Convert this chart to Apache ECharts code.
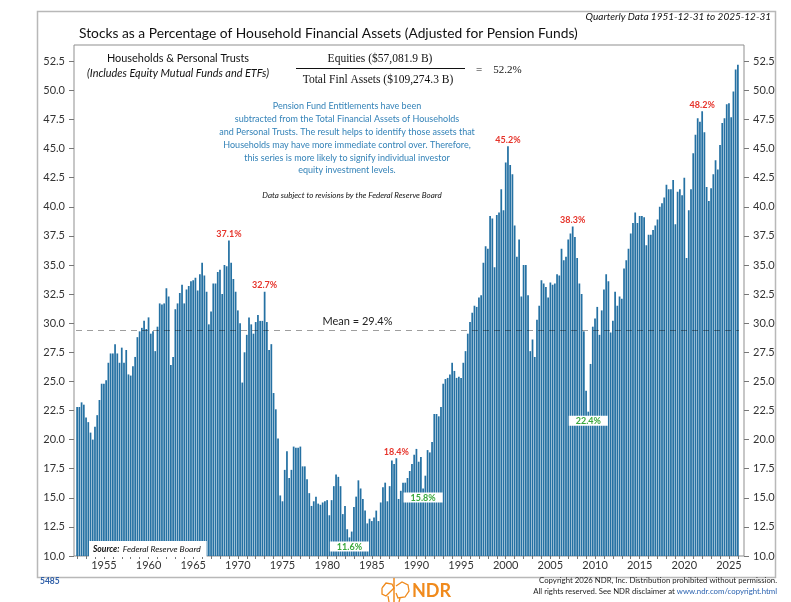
<!DOCTYPE html>
<html>
<head>
<meta charset="utf-8">
<title>Stocks as a Percentage of Household Financial Assets</title>
<script src="https://cdn.jsdelivr.net/npm/echarts@6/dist/echarts.min.js"></script>
<style>
  html, body { margin: 0; padding: 0; background: #fff; }
  #chart { width: 791px; height: 602px; }
</style>
</head>
<body>
<div id="chart"></div>
<script>
// Stocks as % of household financial assets, quarterly, first bar = 1951-12-31
const q1950s = [
  22.8,
  22.8, 23.2, 23.0, 21.9,
  21.5, 20.6, 20.0, 21.1,
  22.1, 23.4, 24.8, 24.8,
  25.1, 26.6, 27.4, 27.4,
  28.2, 27.4, 26.6, 27.9,
  26.6, 27.7, 25.6, 25.5,
  26.3, 27.1, 28.8, 29.3,
  29.6, 30.2, 29.5, 30.5
];
const q1960s = [
  29.1, 29.3, 27.6, 29.7,
  31.7, 31.6, 31.7, 33.0,
  32.3, 26.4, 27.1, 31.2,
  31.7, 32.6, 33.3, 31.7,
  32.9, 33.2, 33.6, 33.7,
  33.9, 32.8, 34.2, 35.2,
  34.1, 32.7, 29.9, 31.0,
  33.4, 33.4, 34.4, 34.6,
  32.5, 35.0, 34.9, 37.1,
  35.2, 33.8, 32.7, 31.1
];
const q1970s = [
  30.0, 24.9, 27.5, 29.0,
  30.5, 29.9, 29.1, 30.1,
  30.7, 30.2, 30.2, 32.7,
  30.1, 27.7, 28.2, 24.0,
  22.6, 20.1, 15.2, 14.7,
  17.4, 19.0, 16.7, 17.4,
  19.4, 19.3, 19.3, 19.4,
  17.7, 17.7, 16.6, 15.4,
  14.3, 14.7, 15.1, 14.5,
  14.4, 14.6, 14.7, 14.8
];
const q1980s = [
  13.5, 14.8, 16.0, 17.0,
  16.8, 16.0, 13.6, 14.3,
  12.3, 11.6, 12.1, 14.2,
  15.1, 16.5, 15.8, 14.9,
  13.9, 12.8, 13.2, 13.0,
  13.3, 13.9, 13.0, 14.6,
  15.9, 16.3, 14.7, 16.0,
  18.2, 17.9, 18.4, 14.9,
  15.6, 16.3, 16.3, 16.7,
  17.3, 17.9, 18.7, 19.2
];
const q1990s = [
  18.1, 18.5, 15.8, 16.9,
  19.1, 18.9, 19.8, 22.2,
  22.2, 22.0, 22.8, 24.8,
  25.2, 25.3, 25.6, 26.6,
  25.9, 25.3, 25.4, 25.3,
  26.6, 27.6, 29.1, 30.1,
  30.9, 31.5, 31.4, 32.2,
  32.4, 35.2, 36.6, 36.4,
  39.2, 39.0, 34.8, 39.3,
  39.5, 41.5, 39.7, 43.8
];
const q2000s = [
  45.2, 43.6, 42.8, 38.4,
  35.7, 37.2, 32.3, 35.0,
  35.0, 32.4, 27.6, 28.6,
  27.1, 30.3, 31.5, 33.7,
  33.4, 33.1, 32.2, 33.5,
  33.3, 33.4, 34.2, 34.1,
  36.4, 35.4, 35.7, 37.2,
  37.7, 38.3, 37.4, 35.6,
  33.4, 32.5, 29.3, 24.2,
  22.4, 26.5, 29.7, 30.4
];
const q2010s = [
  31.4, 29.0, 31.1, 32.9,
  34.2, 33.6, 29.2, 30.2,
  32.7, 31.5, 32.3, 32.1,
  34.7, 35.4, 36.4, 37.7,
  38.6, 39.5, 38.6, 39.2,
  39.2, 39.1, 36.7, 37.6,
  37.6, 38.0, 38.4, 38.9,
  40.0, 40.3, 40.8, 41.9,
  41.5, 41.5, 42.3, 38.5,
  41.3, 41.5, 41.0, 42.5
];
const q2020s = [
  35.6, 39.7, 41.5, 44.6,
  46.2, 47.6, 47.3, 48.2,
  46.4, 41.7, 40.5, 41.6,
  42.8, 44.0, 43.2, 45.3,
  47.2, 47.6, 48.8, 48.9,
  47.7, 49.9, 51.8, 52.2
];

const yTicks = [10, 12.5, 15, 17.5, 20, 22.5, 25, 27.5, 30, 32.5, 35, 37.5, 40, 42.5, 45, 47.5, 50, 52.5];
const yearLabels = [1955, 1960, 1965, 1970, 1975, 1980, 1985, 1990, 1995, 2000, 2005, 2010, 2015, 2020, 2025];
const peakDates = ['1968-12-31', '1972-12-31', '1987-09-30', '2000-03-31', '2007-06-30', '2021-12-31'];
const troughDates = ['1982-06-30', '1990-09-30', '2009-03-31'];
const meanValue = 29.4;
const equities = '$57,081.9 B';
const totalAssets = '$109,274.3 B';

const values = [].concat(q1950s, q1960s, q1970s, q1980s, q1990s, q2000s, q2010s, q2020s);
const quarterEnds = ['03-31', '06-30', '09-30', '12-31'];
const dates = values.map((v, i) => {
  const q = i + 3;
  return (1951 + Math.floor(q / 4)) + '-' + quarterEnds[q % 4];
});
const latest = values[values.length - 1];

const FONT = 'Lato, sans-serif';
const SERIF = '"Liberation Serif", serif';
const BAR = '#2571a3';
const Y_MIN = 10, Y_MAX = 53.9;

const barData = values.map((v, i) => {
  const d = dates[i];
  if (peakDates.indexOf(d) >= 0) {
    return { value: v, label: { show: true, position: 'top', distance: 2,
      formatter: v.toFixed(1) + '%', color: '#e6332a', fontWeight: 'bold', fontSize: 9, fontFamily: FONT } };
  }
  if (troughDates.indexOf(d) >= 0) {
    return { value: v, label: { show: true, position: 'insideTop', distance: 4,
      formatter: v.toFixed(1) + '%', color: '#3aa83c', fontWeight: 'bold', fontSize: 9, fontFamily: FONT,
      backgroundColor: '#fff', padding: [1, 7, 0, 7] } };
  }
  return v;
});

const sideAxis = (pos) => ({
  type: 'value', gridIndex: 0, position: pos, min: Y_MIN, max: Y_MAX,
  axisLine: { show: false },
  axisTick: { show: true, length: 5, lineStyle: { color: '#777' }, customValues: yTicks },
  axisLabel: { color: '#333', fontSize: 11, fontFamily: FONT, margin: 9,
    customValues: yTicks, formatter: v => v.toFixed(1) },
  splitLine: { show: false }
});

const chart = echarts.init(document.getElementById('chart'));
chart.setOption({
  animation: false,
  grid: [
    { left: 74, right: 47, top: 45, bottom: 46, show: true, borderColor: '#8f8f8f', borderWidth: 1, backgroundColor: 'transparent' },
    { left: 76, right: 52, top: 45, bottom: 46 }
  ],
  xAxis: [
    { type: 'value', gridIndex: 0, show: false, min: 0, max: 1 },
    {
      type: 'category', gridIndex: 1, data: dates,
      axisLine: { show: false },
      axisTick: { show: true, alignWithLabel: true, length: 3, lineStyle: { color: '#777' },
        interval: (i, d) => d.slice(5) === '12-31' },
      axisLabel: { color: '#333', fontSize: 11, fontFamily: FONT, margin: 4,
        interval: (i, d) => d.slice(5) === '12-31' && yearLabels.indexOf(+d.slice(0, 4) + 1) >= 0,
        formatter: d => String(+d.slice(0, 4) + 1) }
    }
  ],
  yAxis: [
    sideAxis('left'),
    sideAxis('right'),
    { type: 'value', gridIndex: 1, min: Y_MIN, max: Y_MAX, show: false }
  ],
  series: [{
    type: 'bar', xAxisIndex: 1, yAxisIndex: 2,
    data: barData,
    barWidth: '78%',
    itemStyle: { color: BAR },
    markLine: {
      silent: true, symbol: 'none',
      lineStyle: { type: [6, 5], color: 'rgba(0,0,0,0.38)', width: 1.2 },
      label: { position: 'insideMiddleTop', formatter: 'Mean = ' + meanValue + '%',
        color: '#222', fontSize: 11, fontFamily: FONT, offset: [-50, 0], distance: 3 },
      data: [{ yAxis: meanValue }]
    }
  }],
  graphic: { elements: [
    { type: 'rect', silent: true, z: -10,
      shape: { x: 37.5, y: 11.5, width: 738, height: 566 },
      style: { fill: 'none', stroke: '#b8b8b8', lineWidth: 1.5 } },
    { type: 'text', x: 771, y: 17, style: {
      text: 'Quarterly Data ' + dates[0] + ' to ' + dates[dates.length - 1],
      align: 'right', verticalAlign: 'middle', fill: '#111',
      font: 'italic 10px ' + FONT } },
    { type: 'text', x: 79, y: 34, style: {
      text: 'Stocks as a Percentage of Household Financial Assets (Adjusted for Pension Funds)',
      align: 'left', verticalAlign: 'middle', fill: '#111', font: '13.8px ' + FONT } },
    { type: 'text', x: 178, y: 58, style: {
      text: 'Households & Personal Trusts', align: 'center', verticalAlign: 'middle',
      fill: '#111', font: '10.9px ' + FONT } },
    { type: 'text', x: 178, y: 73, style: {
      text: '(Includes Equity Mutual Funds and ETFs)', align: 'center', verticalAlign: 'middle',
      fill: '#111', font: 'italic 10.9px ' + FONT } },
    { type: 'text', x: 380, y: 59, style: {
      text: 'Equities (' + equities + ')', align: 'center', verticalAlign: 'middle',
      fill: '#111', font: '11.5px ' + SERIF } },
    { type: 'line', silent: true, shape: { x1: 296, y1: 68.5, x2: 465, y2: 68.5 },
      style: { stroke: '#111', lineWidth: 1 } },
    { type: 'text', x: 378, y: 80, style: {
      text: 'Total Finl Assets (' + totalAssets + ')', align: 'center', verticalAlign: 'middle',
      fill: '#111', font: '11.5px ' + SERIF } },
    { type: 'text', x: 476, y: 70, style: {
      text: '=    ' + latest.toFixed(1) + '%', align: 'left', verticalAlign: 'middle',
      fill: '#111', font: '11px ' + SERIF } },
    { type: 'text', x: 347, y: 100, style: {
      text: [
        'Pension Fund Entitlements have been',
        'subtracted from the Total Financial Assets of Households',
        'and Personal Trusts. The result helps to identify those assets that',
        'Households may have more immediate control over. Therefore,',
        'this series is more likely to signify individual investor',
        'equity investment levels.'
      ].join('\n'),
      align: 'center', verticalAlign: 'top', lineHeight: 12.8,
      fill: '#3483b8', font: '9px ' + FONT } },
    { type: 'text', x: 352, y: 195, style: {
      text: 'Data subject to revisions by the Federal Reserve Board',
      align: 'center', verticalAlign: 'middle', fill: '#111', font: 'italic 8px ' + FONT } },
    { type: 'text', x: 89, y: 541, z: 50, style: {
      text: '{b|Source:} {i|Federal Reserve Board}',
      backgroundColor: '#fff', padding: [2, 6, 2, 4],
      rich: {
        b: { font: 'bold italic 8.5px ' + FONT, fill: '#111' },
        i: { font: 'italic 8.5px ' + FONT, fill: '#111' }
      } } },
    { type: 'text', x: 40, y: 581, style: {
      text: '5485', align: 'left', verticalAlign: 'middle', fill: '#2f5fa8',
      font: 'bold 8.5px ' + FONT } },
    { type: 'text', x: 777, y: 580, style: {
      text: 'Copyright 2026 NDR, Inc. Distribution prohibited without permission.',
      align: 'right', verticalAlign: 'middle', fill: '#222', font: '7.8px ' + FONT } },
    { type: 'text', x: 777, y: 591, style: {
      text: '{k|All rights reserved. See NDR disclaimer at }{u|www.ndr.com/copyright.html}',
      align: 'right', verticalAlign: 'middle',
      rich: {
        k: { font: '7.8px ' + FONT, fill: '#222' },
        u: { font: '7.8px ' + FONT, fill: '#2b63b0' }
      } } },
    { type: 'text', x: 412, y: 591, style: {
      text: 'NDR', align: 'left', verticalAlign: 'middle', fill: '#f08a1c',
      font: 'bold 18px ' + FONT } },
    { type: 'group', x: 380, y: 578, silent: true, children: [
      { type: 'polyline', shape: { points: [[14, 0], [14, 24]] }, style: { stroke: '#f08a1c', lineWidth: 1.5, fill: 'none' } },
      { type: 'polyline', shape: { points: [[2, 10], [6, 5], [12, 6], [14, 10], [10, 14], [6, 18], [2, 16], [2, 10]] },
        style: { stroke: '#f08a1c', lineWidth: 1.3, fill: 'none' } },
      { type: 'polyline', shape: { points: [[16, 8], [22, 4], [28, 7], [29, 13], [25, 19], [18, 20], [16, 15]] },
        style: { stroke: '#f08a1c', lineWidth: 1.3, fill: 'none' } },
      { type: 'polyline', shape: { points: [[8, 18], [9, 24]] }, style: { stroke: '#f08a1c', lineWidth: 1.3 } },
      { type: 'polyline', shape: { points: [[20, 20], [19, 24]] }, style: { stroke: '#f08a1c', lineWidth: 1.3 } }
    ] }
  ] }
});
</script>
</body>
</html>
